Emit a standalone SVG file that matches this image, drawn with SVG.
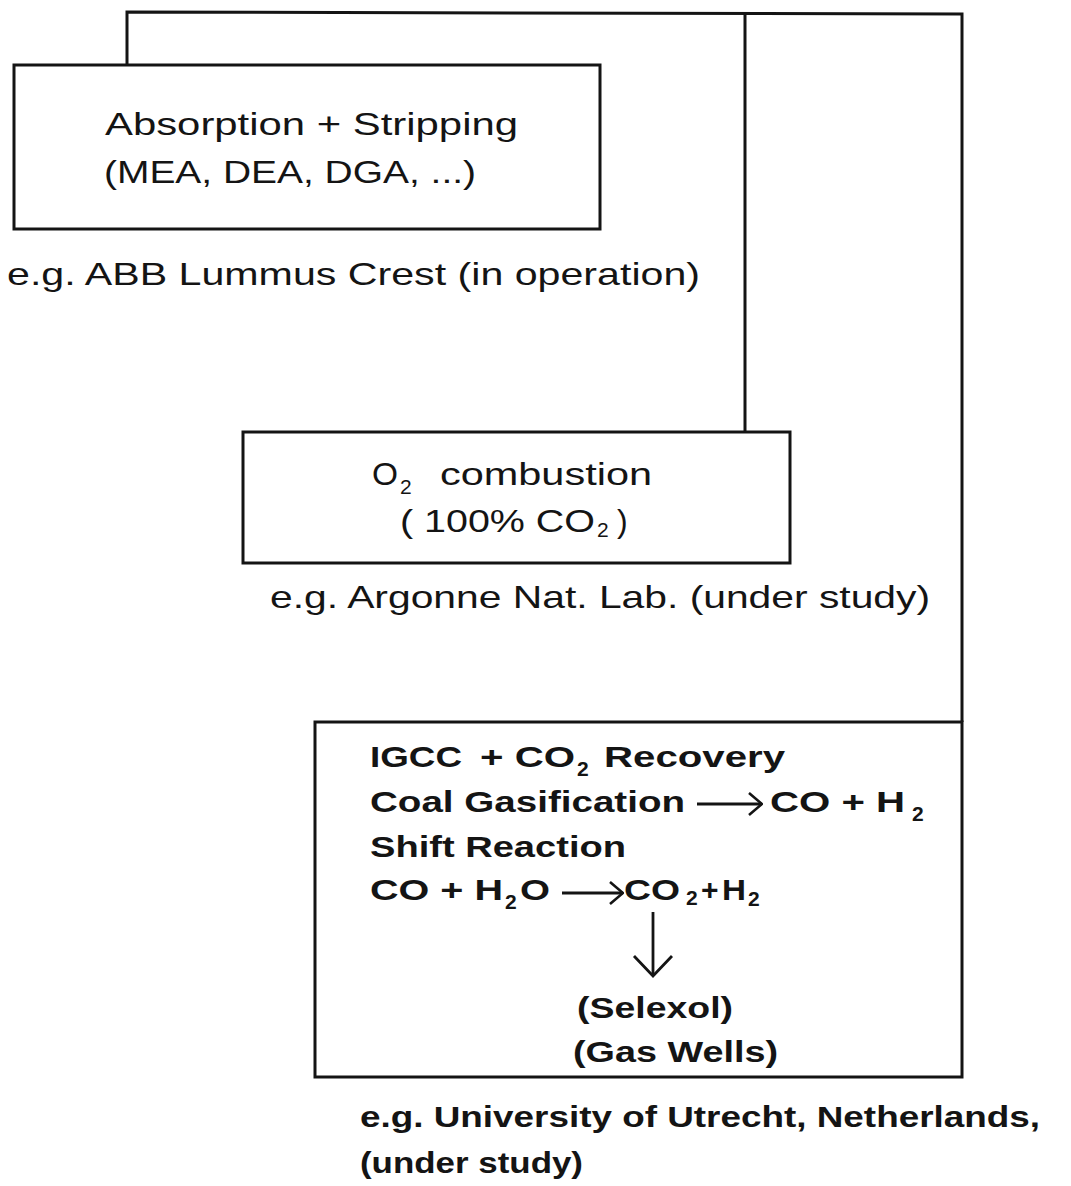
<svg xmlns="http://www.w3.org/2000/svg" width="1071" height="1186" viewBox="0 0 1071 1186">
<style>
.box{fill:none;stroke:#141414;stroke-width:3}
.wire{fill:none;stroke:#141414;stroke-width:3}
.t{font-family:"Liberation Sans",Arial,sans-serif;font-size:32px;fill:#141414}
.b{font-family:"Liberation Sans",Arial,sans-serif;font-size:30px;font-weight:bold;fill:#141414}
.sb{font-family:"Liberation Sans",Arial,sans-serif;font-size:21px;font-weight:bold;fill:#141414}
.ss{font-family:"Liberation Sans",Arial,sans-serif;font-size:21px;fill:#141414}
.arr{fill:none;stroke:#141414;stroke-width:2.8}
</style>
<defs>
<marker id="open" viewBox="0 0 16 24" refX="15" refY="12" markerWidth="16" markerHeight="24" markerUnits="userSpaceOnUse" orient="auto">
<path d="M2,1 L15,12 L2,23" fill="none" stroke="#141414" stroke-width="2.6"/>
</marker>
<marker id="openbig" viewBox="0 0 24 42" refX="22" refY="21" markerWidth="24" markerHeight="42" markerUnits="userSpaceOnUse" orient="auto">
<path d="M2,2 L22,21 L2,40" fill="none" stroke="#141414" stroke-width="2.8"/>
</marker>
</defs>
<rect width="1071" height="1186" fill="#ffffff"/>
<g id="connectors">
<polyline class="wire" points="127,65 127,12 962,14 962,722"/>
<line class="wire" x1="745" y1="13" x2="745" y2="432"/>
</g>
<g id="node-absorption">
<rect class="box" x="14" y="65" width="586" height="164"/>
<text class="t" x="105" y="135" textLength="413" lengthAdjust="spacingAndGlyphs">Absorption + Stripping</text>
<text class="t" x="104" y="183" textLength="372" lengthAdjust="spacingAndGlyphs">(MEA, DEA, DGA, ...)</text>
<text class="t" x="7" y="285" textLength="693" lengthAdjust="spacingAndGlyphs">e.g. ABB Lummus Crest (in operation)</text>
</g>
<g id="node-o2">
<rect class="box" x="243" y="432" width="547" height="131"/>
<text class="t" x="372" y="485" textLength="26" lengthAdjust="spacingAndGlyphs">O</text>
<text class="ss" x="400" y="494">2</text>
<text class="t" x="440" y="485" textLength="212" lengthAdjust="spacingAndGlyphs">combustion</text>
<text class="t" x="400" y="532" textLength="195" lengthAdjust="spacingAndGlyphs">( 100% CO</text>
<text class="ss" x="597" y="537">2</text>
<text class="t" x="617" y="532">)</text>
<text class="t" x="270" y="608" textLength="660" lengthAdjust="spacingAndGlyphs">e.g. Argonne Nat. Lab. (under study)</text>
</g>
<g id="node-igcc">
<rect class="box" x="315" y="722" width="647" height="355"/>
<text class="b" x="370" y="767" textLength="92" lengthAdjust="spacingAndGlyphs">IGCC</text>
<text class="b" x="480" y="767" textLength="95" lengthAdjust="spacingAndGlyphs">+ CO</text>
<text class="sb" x="577" y="776">2</text>
<text class="b" x="604" y="767" textLength="181" lengthAdjust="spacingAndGlyphs">Recovery</text>
<text class="b" x="370" y="812" textLength="315" lengthAdjust="spacingAndGlyphs">Coal Gasification</text>
<line class="arr" x1="697" y1="804" x2="762" y2="804" marker-end="url(#open)"/>
<text class="b" x="770" y="812" textLength="135" lengthAdjust="spacingAndGlyphs">CO + H</text>
<text class="sb" x="912" y="821">2</text>
<text class="b" x="370" y="857" textLength="256" lengthAdjust="spacingAndGlyphs">Shift Reaction</text>
<text class="b" x="370" y="900" textLength="133" lengthAdjust="spacingAndGlyphs">CO + H</text>
<text class="sb" x="505" y="909">2</text>
<text class="b" x="520" y="900" textLength="30" lengthAdjust="spacingAndGlyphs">O</text>
<line class="arr" x1="562" y1="893" x2="623" y2="893" marker-end="url(#open)"/>
<text class="b" x="624" y="900" textLength="56" lengthAdjust="spacingAndGlyphs">CO</text>
<text class="sb" x="686" y="905">2</text>
<text class="b" x="701" y="900">+</text>
<text class="b" x="722" y="900" textLength="24" lengthAdjust="spacingAndGlyphs">H</text>
<text class="sb" x="748" y="906">2</text>
<line class="arr" x1="653" y1="912" x2="653" y2="976" marker-end="url(#openbig)"/>
<text class="b" x="577" y="1018" textLength="156" lengthAdjust="spacingAndGlyphs">(Selexol)</text>
<text class="b" x="573" y="1062" textLength="205" lengthAdjust="spacingAndGlyphs">(Gas Wells)</text>
<text class="b" x="360" y="1127" textLength="680" lengthAdjust="spacingAndGlyphs">e.g. University of Utrecht, Netherlands,</text>
<text class="b" x="360" y="1173" textLength="223" lengthAdjust="spacingAndGlyphs">(under study)</text>
</g>
</svg>
